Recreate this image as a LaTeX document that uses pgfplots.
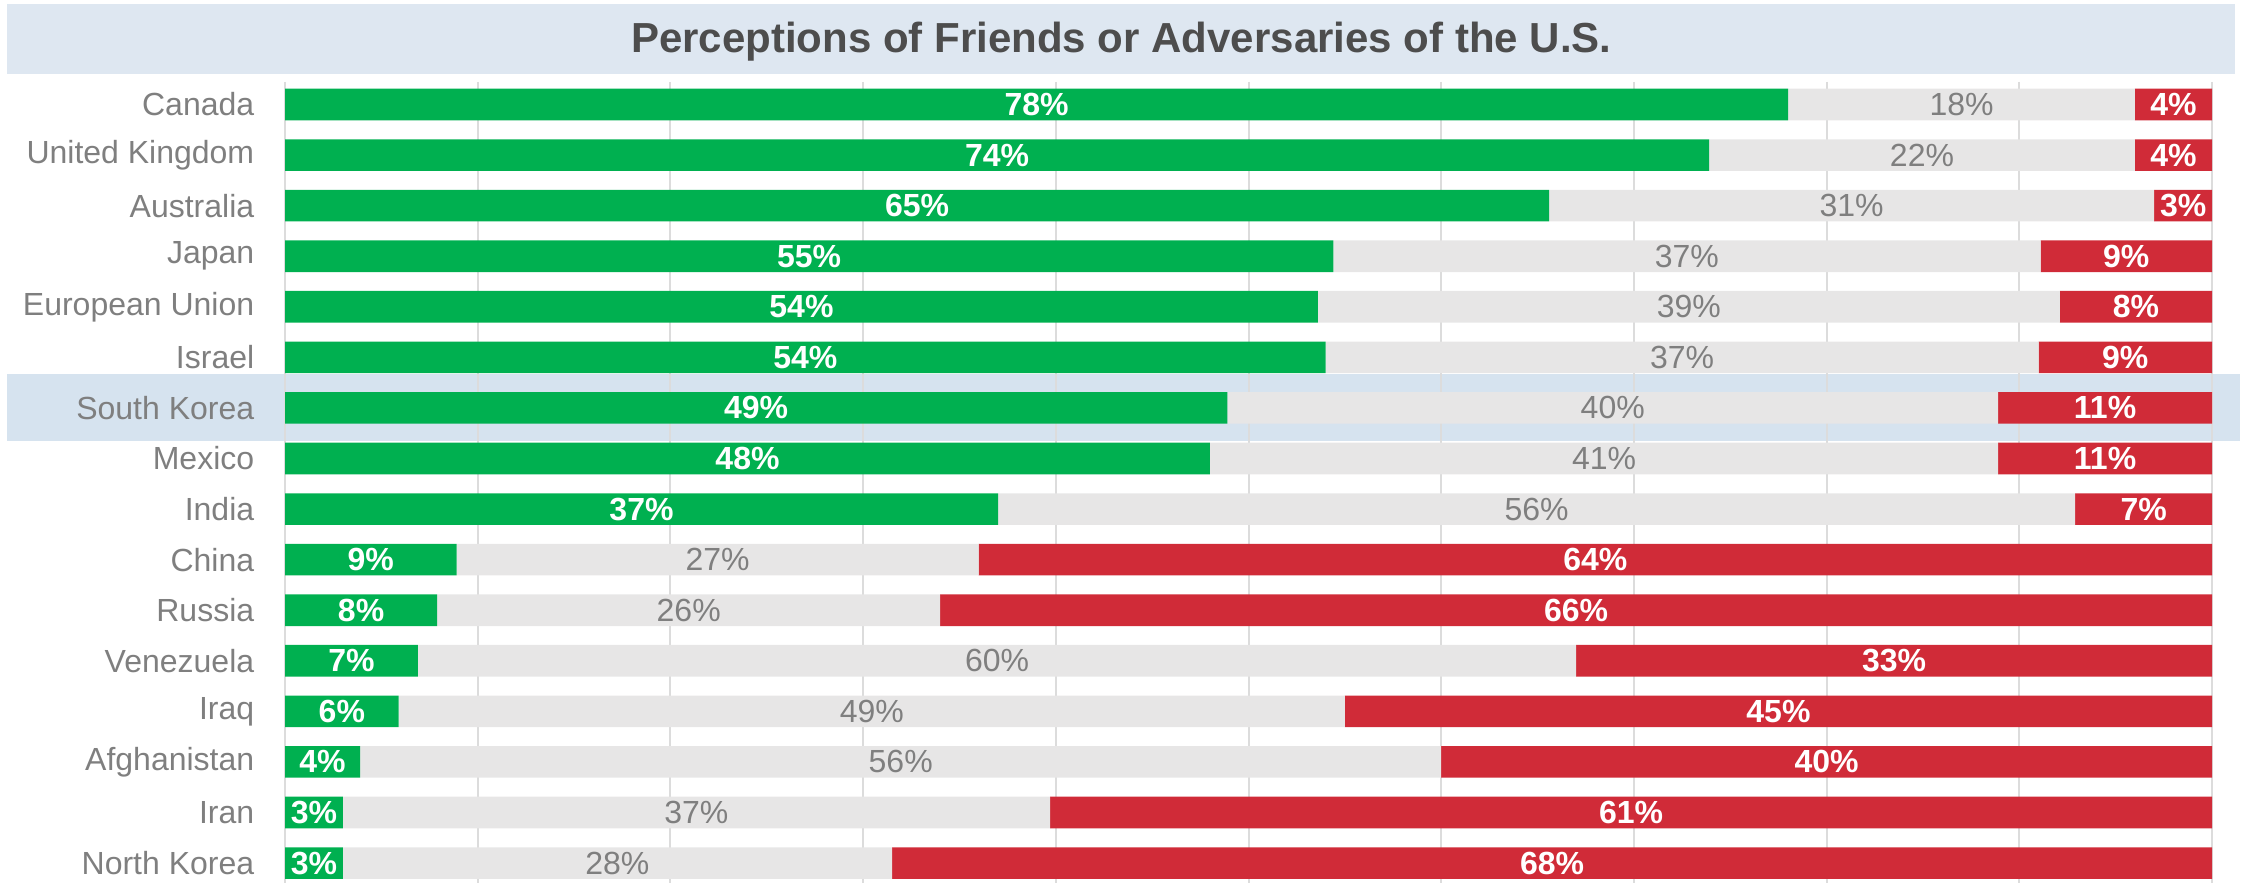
\documentclass[border=0pt]{standalone}
\usepackage{pgfplots}
\pgfplotsset{compat=1.18}
\usepackage{pgfplotstable}
\usepackage{fontspec}
\setmainfont{Liberation Sans}
\definecolor{friend}{HTML}{00B050}
\definecolor{neutral}{HTML}{E7E6E6}
\definecolor{enemy}{HTML}{D02B38}
\definecolor{band}{HTML}{DEE7F1}
\definecolor{hilite}{HTML}{D6E3EF}
\definecolor{txtgray}{HTML}{7F7F7F}
\definecolor{titlegray}{HTML}{4D4D4D}
\definecolor{gridgray}{HTML}{DCDCDC}

% i = row, g/n/r = friend/neutral/adversary share, gl/nl/rl = printed labels
\pgfplotstableread{
i g n r gl nl rl
0 78.0 18.0 4.0 78 18 4
1 73.9 22.1 4.0 74 22 4
2 65.6 31.4 3.0 65 31 3
3 54.4 36.7 8.9 55 37 9
4 53.6 38.5 7.9 54 39 8
5 54.0 37.0 9.0 54 37 9
6 48.9 40.0 11.1 49 40 11
7 48.0 40.9 11.1 48 41 11
8 37.0 55.9 7.1 37 56 7
9 8.9 27.1 64.0 9 27 64
10 7.9 26.1 66.0 8 26 66
11 6.9 60.1 33.0 7 60 33
12 5.9 49.1 45.0 6 49 45
13 3.9 56.1 40.0 4 56 40
14 3.0 36.7 60.3 3 37 61
15 3.0 28.5 68.5 3 28 68
}\perc

\pgfplotsset{frame/.style={
  scale only axis, width=481.75pt, height=200.25pt,
  xmin=0, xmax=100, ymin=-0.445, ymax=15.394, y dir=reverse,
  clip=false}}

\begin{document}
\begin{tikzpicture}
% backdrop: title band, highlighted row, page extent
\begin{axis}[frame, hide axis]
\fill[hilite] (axis cs:-14.43,5.32) rectangle (axis cs:101.45,6.654);
\fill[band] (axis cs:-14.43,-1.987) rectangle (axis cs:101.19,-0.603);
\node[font=\fontsize{10.5}{12}\selectfont\bfseries, text=titlegray] at (axis cs:43.4,-1.25)
  {Perceptions of Friends or Adversaries of the U.S.};
\path (axis cs:-14.79,-2.066) rectangle (axis cs:101.66,15.394);
\end{axis}

% bars
\begin{axis}[
  frame,
  xbar stacked, bar width=7.9pt,
  axis line style={draw=none},
  xtick={0,10,...,100}, xticklabels={}, xticklabel style={overlay},
  xmajorgrids, major grid style={gridgray, line width=0.5pt},
  major tick length=0pt,
  ytick={0,...,15},
  yticklabels={Canada, United Kingdom, Australia, Japan, European Union, Israel, South Korea, Mexico, India, China, Russia, Venezuela, Iraq, Afghanistan, Iran, North Korea},
  yticklabel style={font=\fontsize{8}{9}\selectfont, text=txtgray, inner sep=0pt, xshift=-7.5pt},
]
\addplot[fill=friend, draw=none] table[x=g, y=i] {\perc};
\addplot[fill=neutral, draw=none] table[x=n, y=i] {\perc};
\addplot[fill=enemy, draw=none] table[x=r, y=i] {\perc};
\end{axis}

% segment labels, centred on each segment
\begin{axis}[
  frame, hide axis,
  point meta=explicit symbolic,
  nodes near coords={\pgfplotspointmeta\%},
  every node near coord/.append style={anchor=center, inner sep=0pt,
    font=\fontsize{8}{9}\selectfont},
]
\addplot[draw=none, no markers, nodes near coords style={text=white, font=\fontsize{8}{9}\selectfont\bfseries}]
  table[x expr=\thisrow{g}/2, y=i, meta=gl] {\perc};
\addplot[draw=none, no markers, nodes near coords style={text=txtgray}]
  table[x expr=\thisrow{g}+\thisrow{n}/2, y=i, meta=nl] {\perc};
\addplot[draw=none, no markers, nodes near coords style={text=white, font=\fontsize{8}{9}\selectfont\bfseries}]
  table[x expr=\thisrow{g}+\thisrow{n}+\thisrow{r}/2, y=i, meta=rl] {\perc};
\end{axis}
\end{tikzpicture}
\end{document}
